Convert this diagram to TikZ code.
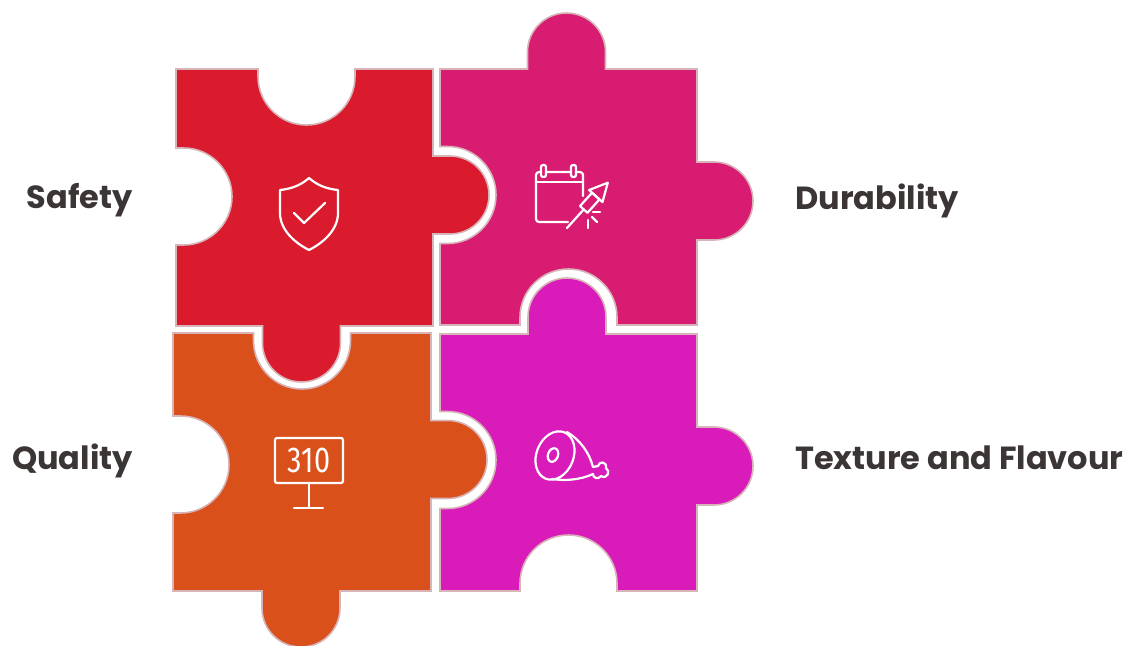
\documentclass[tikz,border=0pt]{standalone}
\usepackage{fontspec}
\usepackage{graphicx}
\setmainfont{Poppins}
\newfontfamily\digitfont{Fira Sans}
\definecolor{pcred}{HTML}{DA1B2E}
\definecolor{pcmag}{HTML}{D81C72}
\definecolor{pcora}{HTML}{D9501B}
\definecolor{pcpur}{HTML}{D91BB9}
\definecolor{pcline}{HTML}{D6B4B8}
\definecolor{txtc}{HTML}{3B3535}
\tikzset{
  piece/.style={draw=pcline, line width=1.6pt},
  icon/.style={draw=white, line width=2.2pt, line cap=round, line join=round},
  lbl/.style={font=\bfseries\fontsize{32}{38}\selectfont, text=txtc, inner sep=0pt}
}
\begin{document}
\begin{tikzpicture}[x=1pt,y=1pt]
\useasboundingbox (0,0) rectangle (1137,-645);
% Red piece
\path[piece, fill=pcred] (176,-69) -- (258,-69) -- (258,-76.5) arc[start angle=180, end angle=360, radius=48.5] -- (355,-69) -- (433,-69)
  -- (433,-156) -- (450,-156) arc[start angle=90, end angle=-90, radius=39] -- (433,-234) -- (433,-326)
  -- (340.5,-326) -- (340.5,-343) arc[start angle=0, end angle=-180, radius=39] -- (262.5,-326) -- (176,-326)
  -- (176,-245) -- (183.5,-245) arc[start angle=-90, end angle=90, radius=48.5] -- (176,-148) -- cycle;
% Magenta piece
\path[piece, fill=pcmag] (440,-69) -- (527.5,-69) -- (527.5,-52) arc[start angle=180, end angle=0, radius=39] -- (605.5,-69) -- (697,-69)
  -- (697,-162) -- (714,-162) arc[start angle=90, end angle=-90, radius=39] -- (697,-240) -- (697,-325)
  -- (617,-325) -- (617,-317.5) arc[start angle=0, end angle=180, radius=48.5] -- (520,-325) -- (440,-325)
  -- (440,-243.5) -- (447.5,-243.5) arc[start angle=-90, end angle=90, radius=48.5] -- (440,-146.5) -- cycle;
% Orange piece
\path[piece, fill=pcora] (173,-333) -- (253.5,-333) -- (253.5,-340.5) arc[start angle=180, end angle=360, radius=48.5] -- (350.5,-333) -- (431,-333)
  -- (431,-420.5) -- (448,-420.5) arc[start angle=90, end angle=-90, radius=39] -- (431,-498.5) -- (431,-591)
  -- (340,-591) -- (340,-608) arc[start angle=0, end angle=-180, radius=39] -- (262,-591) -- (173,-591)
  -- (173,-513) -- (180.5,-513) arc[start angle=-90, end angle=90, radius=48.5] -- (173,-416) -- cycle;
% Purple piece
\path[piece, fill=pcpur] (440,-334) -- (528,-334) -- (528,-317) arc[start angle=180, end angle=0, radius=39] -- (606,-334) -- (697,-334)
  -- (697,-427) -- (714,-427) arc[start angle=90, end angle=-90, radius=39] -- (697,-505) -- (697,-591)
  -- (617,-591) -- (617,-583.5) arc[start angle=0, end angle=180, radius=48.5] -- (520,-591) -- (440,-591)
  -- (440,-508.5) -- (447.5,-508.5) arc[start angle=-90, end angle=90, radius=48.5] -- (440,-411.5) -- cycle;
% Shield icon
\path[icon] (309,-178) .. controls (300,-186) and (290,-189) .. (280,-190) -- (280,-213)
  .. controls (280,-230) and (295,-243) .. (309,-250) .. controls (323,-243) and (338,-230) .. (338,-213)
  -- (338,-190) .. controls (328,-189) and (318,-186) .. cycle;
\path[icon] (294,-213) -- (304,-223) -- (325,-203);
% Calendar + rocket icon
\path[icon, rounded corners=3pt] (583,-196) -- (583,-172) -- (536,-172) -- (536,-222) -- (568,-222);
\path[icon] (536,-182) -- (583,-182);
\path[icon, fill=pcmag, rounded corners=2pt] (541,-165) rectangle (546,-177);
\path[icon, fill=pcmag, rounded corners=2pt] (571,-165) rectangle (576,-177);
\begin{scope}[shift={(567,-228)}, rotate=48]
  \path[icon] (0,0) -- (25,0);
  \path[icon] (25,-5) -- (43,-5) -- (43,5) -- (25,5) -- cycle;
  \path[icon] (43,-9) -- (61,0) -- (43,9) -- cycle;
\end{scope}
\path[icon] (593,-212) -- (600,-212);
\path[icon] (592,-217) -- (597,-222);
\path[icon] (588,-220) -- (588,-228);
% Scoreboard icon
\path[icon, rounded corners=2pt] (275,-438) rectangle (343,-483);
\path[icon] (309,-483) -- (309,-508);
\path[icon] (294,-508) -- (323,-508);
\node[inner sep=0pt, text=white] (score) at (309,-460.5) {\scalebox{0.8}[1]{\digitfont\fontsize{36}{36}\selectfont 310}};
% Ham icon
\path[icon, rotate around={-22:(555,-455.5)}] (555,-455.5) ellipse[x radius=18.5, y radius=25];
\path[icon, rotate around={-20:(553,-455)}] (553,-455) ellipse[x radius=5, y radius=7];
\path[icon] (567,-432) .. controls (580,-440) and (589,-452) .. (593,-467) -- (598,-466)
  .. controls (599,-461) and (607,-461) .. (606,-468) .. controls (611,-471) and (607,-480) .. (601,-476)
  .. controls (598,-480) and (593,-478) .. (593,-474) .. controls (580,-480) and (565,-481) .. (552,-479);
% Labels
\node[lbl, anchor=base east] (safety) at (133,-208) {Safety};
\node[lbl, anchor=base east] (quality) at (133,-469) {Quality};
\node[lbl, anchor=base west] (durab) at (795,-209) {Durability};
\node[lbl, anchor=base west] (texture) at (795,-469) {Texture and Flavour};
\end{tikzpicture}
\end{document}
